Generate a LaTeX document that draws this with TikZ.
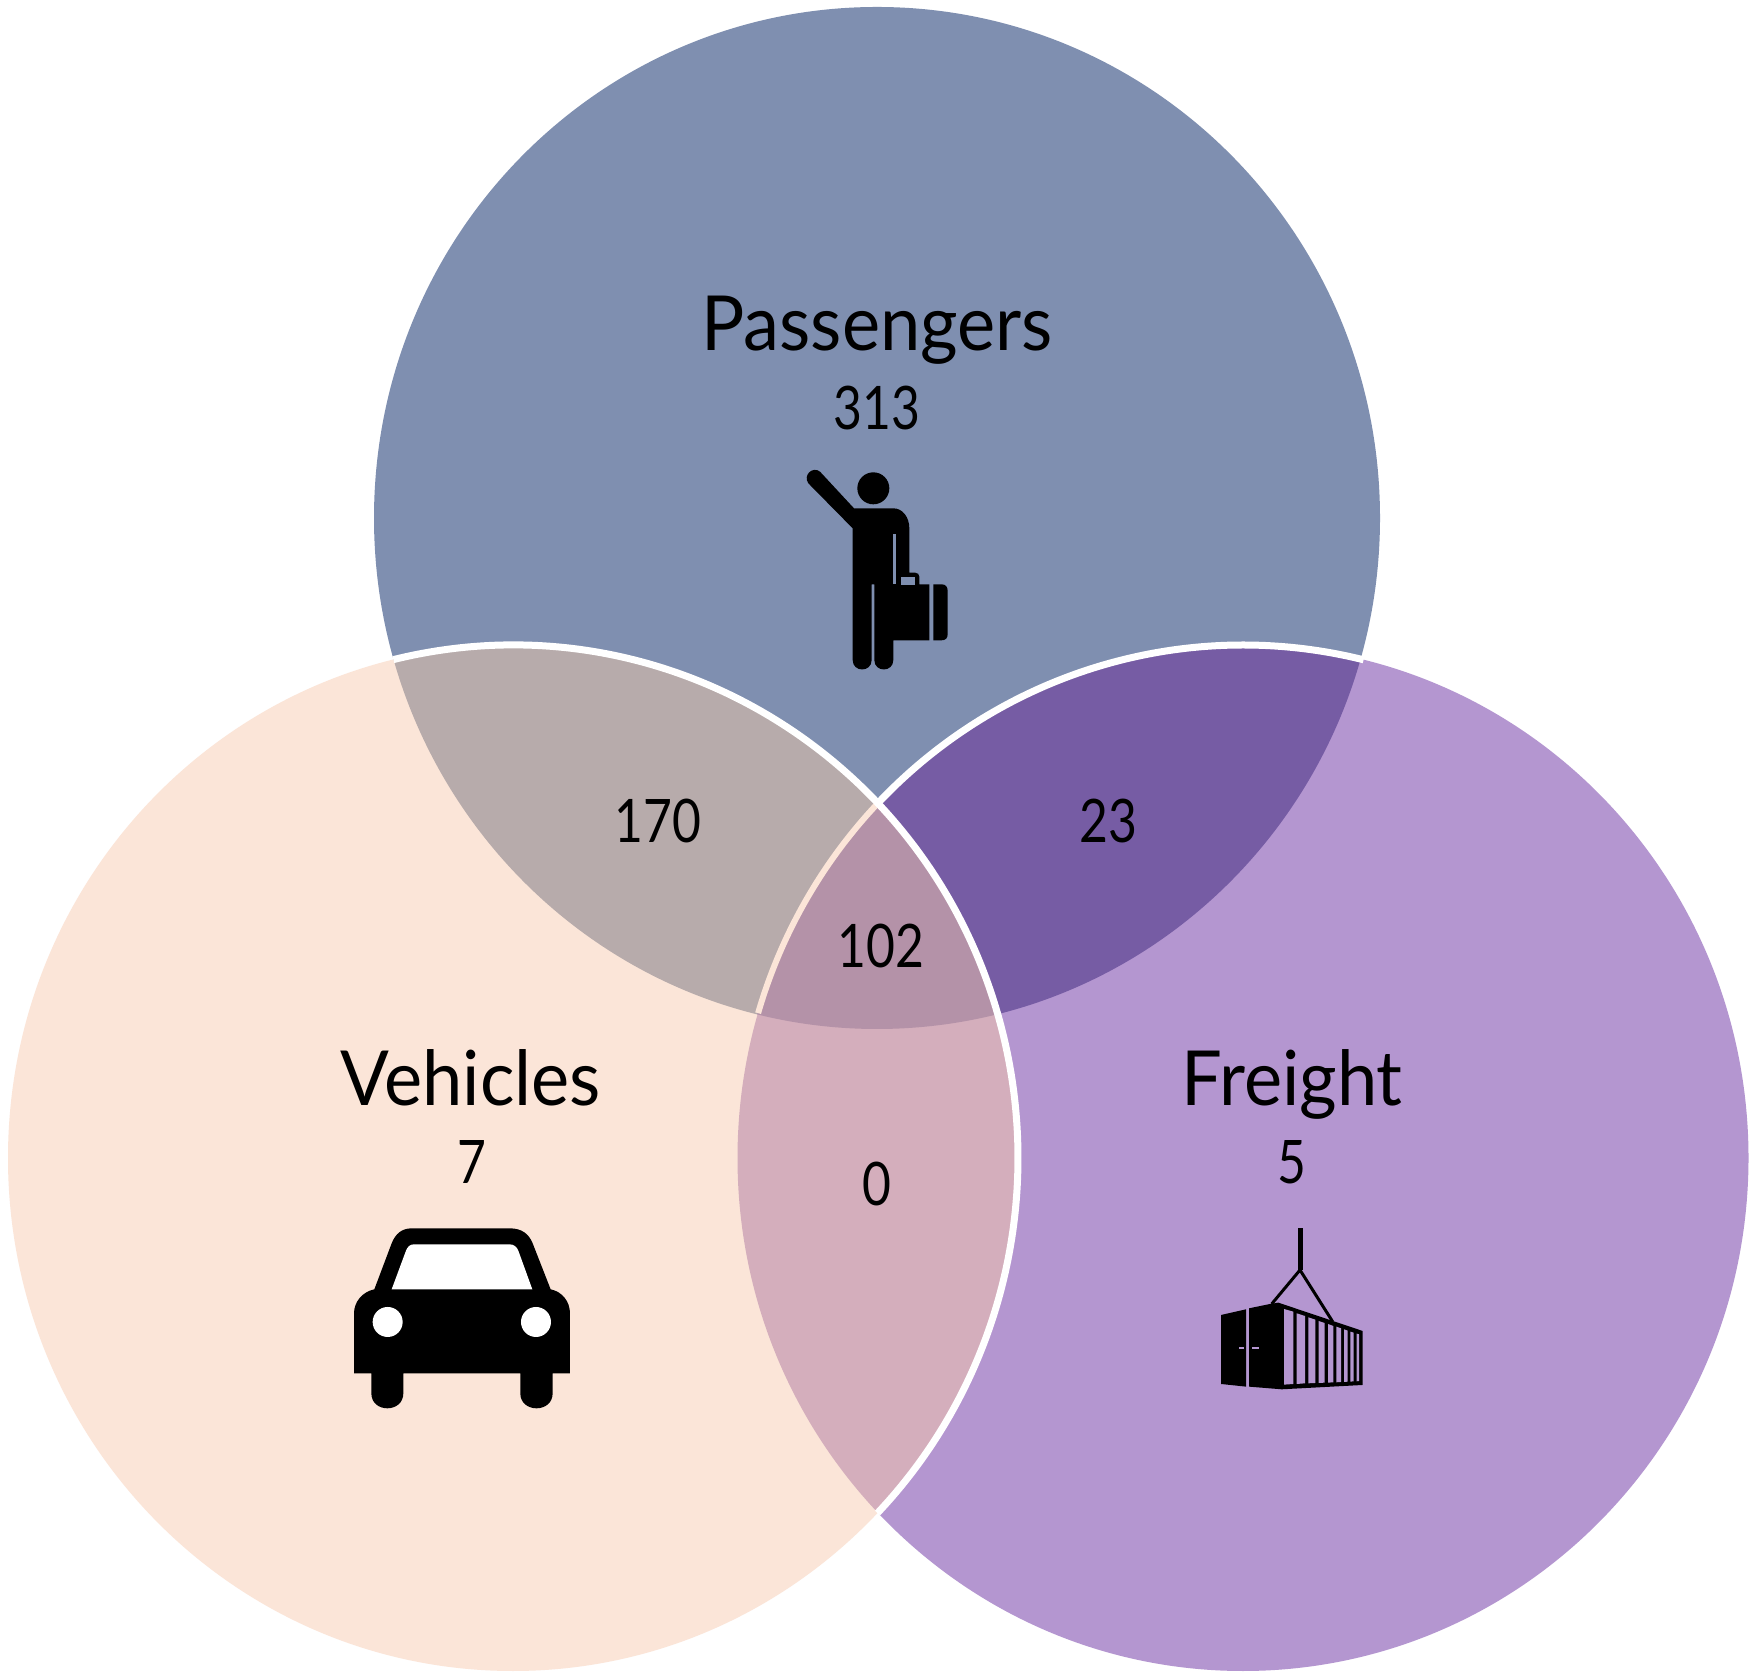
\documentclass[tikz,border=0pt]{standalone}
\usepackage{fontspec}
\usepackage{graphicx}
\setmainfont{Lato}
\definecolor{cP}{HTML}{7F8FB0}
\definecolor{cV}{HTML}{FBE5D8}
\definecolor{cF}{HTML}{B496D0}
\definecolor{cPV}{HTML}{B7ABAB}
\definecolor{cPF}{HTML}{765CA4}
\definecolor{cVF}{HTML}{D4AEBC}
\definecolor{cPVF}{HTML}{B492A8}
\def\pathP{(877,1160) ellipse[x radius=503,y radius=511]}
\def\pathV{(513,520) ellipse[x radius=505,y radius=513]}
\def\pathF{(1243,520) ellipse[x radius=505.5,y radius=513]}
\newcommand\ttl[1]{\scalebox{.95}[1]{#1}}
\newcommand\cnt[1]{\scalebox{.83}[1]{#1}}
\tikzset{
  title/.style={anchor=base,inner sep=0pt,font=\fontsize{76}{76}\selectfont,text=black},
  count/.style={anchor=base,inner sep=0pt,font=\fontsize{60}{60}\selectfont,text=black},
  edgewhite/.style={draw=white,line width=7pt},
  edgepeach/.style={draw=cV,line width=6pt},
  iconzoom/.style={x=0.3333pt,y=-0.3333pt}
}
\begin{document}
\begin{tikzpicture}[x=1pt,y=1pt]
\useasboundingbox (0,0) rectangle (1755,1678);
\fill[white] (0,0) rectangle (1755,1678);
% circles
\fill[cP] \pathP;
\fill[cF] \pathF;
\fill[cV] \pathV;
% overlaps
\begin{scope}\clip \pathP; \fill[cPV] \pathV; \fill[cPF] \pathF; \end{scope}
\begin{scope}\clip \pathV; \fill[cVF] \pathF; \end{scope}
\begin{scope}\clip \pathP; \clip \pathV; \fill[cPVF] \pathF; \end{scope}
% edges
\draw[edgepeach] (1243,520) ++(136.2:505.5 and 513) arc (136.2:163.6:505.5 and 513);
\draw[edgewhite] (513,520) ++(103.7:505 and 513) arc (103.7:-43.8:505 and 513);
\draw[edgewhite] (1243,520) ++(136.2:505.5 and 513) arc (136.2:76.2:505.5 and 513);
% labels
\node[title] (passengers) at (877,1327) {\ttl{Passengers}};
\node[count] (n313) at (877,1248) {\cnt{313}};
\node[title] (vehicles) at (471,572) {\ttl{Vehicles}};
\node[count] (n7) at (472,494) {\cnt{7}};
\node[title] (freight) at (1292,572) {\ttl{Freight}};
\node[count] (n5) at (1292,494) {\cnt{5}};
\node[count] (n170) at (658,835) {\cnt{170}};
\node[count] (n23) at (1108,835) {\cnt{23}};
\node[count] (n102) at (881,710) {\cnt{102}};
\node[count] (n0) at (877,472) {\cnt{0}};
% person
\begin{scope}[shift={(780,1238)},iconzoom]
\fill[black] (280,145) circle[radius=48];
\fill[black,line join=round] (120,95) -- (222,205) -- (340,205) .. controls (368,205) and (388,232) .. (388,265)
  -- (388,398) -- (405,398) .. controls (413,398) and (418,403) .. (418,410) -- (418,433) -- (448,433)
  -- (448,601) -- (340,601) -- (340,660) .. controls (340,698) and (283,698) .. (283,660)
  -- (283,433) -- (275,433) -- (275,660) .. controls (275,698) and (218,698) .. (218,660)
  -- (218,265) -- (85,130) .. controls (68,105) and (98,78) .. (120,95) -- cycle;
\fill[cP] (340,283) rectangle (348,433);
\fill[cP] (362,410) rectangle (405,435);
\fill[black] (460,433) -- (485,433) .. controls (497,433) and (503,441) .. (503,452) -- (503,583)
  .. controls (503,594) and (497,601) .. (485,601) -- (460,601) -- cycle;
\end{scope}
% car
\begin{scope}[shift={(340,468)},iconzoom]
\fill[black] (215,55) -- (510,55) .. controls (545,55) and (567,72) .. (578,100) -- (632,238)
  .. controls (667,245) and (690,275) .. (690,310) -- (690,490) -- (638,490) -- (638,550)
  .. controls (638,610) and (541,610) .. (541,550) -- (541,490) -- (190,490) -- (190,550)
  .. controls (190,610) and (94,610) .. (94,550) -- (94,490) -- (42,490) -- (42,310)
  .. controls (42,275) and (68,245) .. (103,238) -- (155,100) .. controls (166,72) and (185,55) .. (215,55) -- cycle;
\fill[white] (222,103) -- (508,103) .. controls (522,103) and (530,110) .. (535,122) -- (577,238) -- (155,238)
  -- (198,122) .. controls (203,110) and (210,103) .. (222,103) -- cycle;
\fill[white] (143,336) circle[radius=45];
\fill[white] (588,336) circle[radius=45];
\end{scope}
% container
\begin{scope}[shift={(1200,468)},iconzoom]
\draw[black,line width=5pt] (300,55) -- (300,180);
\draw[black,line width=3pt] (215,282) -- (300,180) -- (398,335);
\fill[black] (63,315) -- (138,298) -- (138,530) -- (63,522) -- cycle;
\fill[black] (147,295) -- (210,282) -- (235,278) -- (488,363) -- (488,525) -- (245,538) -- (147,530) -- cycle;
\fill[cF] (252,297) -- (280,305) -- (280,522) -- (252,524) -- cycle;
\fill[cF] (290,310) -- (315,318) -- (315,520) -- (290,522) -- cycle;
\fill[cF] (325,322) -- (346,329) -- (346,519) -- (325,520) -- cycle;
\fill[cF] (356,333) -- (374,339) -- (374,518) -- (356,519) -- cycle;
\fill[cF] (384,342) -- (400,348) -- (400,517) -- (384,518) -- cycle;
\fill[cF] (409,350) -- (423,355) -- (423,516) -- (409,517) -- cycle;
\fill[cF] (432,358) -- (443,362) -- (443,515) -- (432,516) -- cycle;
\fill[cF] (451,365) -- (461,368) -- (461,514) -- (451,515) -- cycle;
\fill[cF] (470,371) -- (477,373) -- (477,513) -- (470,514) -- cycle;
\fill[cF] (117,412) rectangle (132,418);
\fill[cF] (157,412) rectangle (177,418);
\end{scope}
\end{tikzpicture}
\end{document}
